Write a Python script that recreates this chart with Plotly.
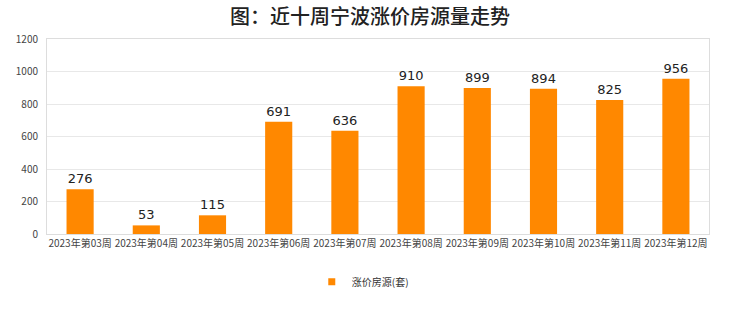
import plotly.graph_objects as go

weeks = ["2023年第03周", "2023年第04周", "2023年第05周", "2023年第06周", "2023年第07周",
         "2023年第08周", "2023年第09周", "2023年第10周", "2023年第11周", "2023年第12周"]
values = [276, 53, 115, 691, 636, 910, 899, 894, 825, 956]
series_name = "涨价房源(套)"
title_text = "图：近十周宁波涨价房源量走势"
y_ticks = [0, 200, 400, 600, 800, 1000, 1200]
bar_color = "#FF8800"

fig = go.Figure()
fig.add_trace(go.Bar(
    x=weeks, y=values, name=series_name,
    marker=dict(color=bar_color, line=dict(width=0)),
    text=values, textposition="outside",
    textfont=dict(size=13, color="#222222", family="DejaVu Sans"),
    cliponaxis=False,
    showlegend=False,
))
# legend-only entry with a small square symbol
fig.add_trace(go.Scatter(
    x=[None], y=[None], mode="markers", name=series_name,
    marker=dict(symbol="square", size=7, color=bar_color),
    showlegend=True,
))

fig.update_layout(
    width=740, height=312,
    margin=dict(l=47, r=31, t=39, b=78),
    paper_bgcolor="white", plot_bgcolor="white",
    title=dict(text=title_text, x=0.5, xanchor="center", y=0.945, yanchor="middle",
               font=dict(size=20, color="#222222", family="Noto Sans CJK SC", weight=500)),
    bargap=0.59,
    font=dict(family="Noto Sans CJK SC", size=10, color="#444444"),
    xaxis=dict(showline=True, linecolor="#dddddd", mirror=True, showgrid=False,
               tickfont=dict(size=10, color="#444444"), ticks="", tickangle=0),
    yaxis=dict(range=[0, 1200], tickvals=y_ticks, showgrid=True, gridcolor="#e8e8e8",
               showline=True, linecolor="#dddddd", mirror=True, zeroline=False,
               tickfont=dict(size=10, color="#444444"), ticks="", ticklabelstandoff=6),
    legend=dict(orientation="h", x=0.477, xanchor="center", y=-0.245, yanchor="middle",
                font=dict(size=10, color="#333333"), itemwidth=30),
)

fig.write_html("out.html")
